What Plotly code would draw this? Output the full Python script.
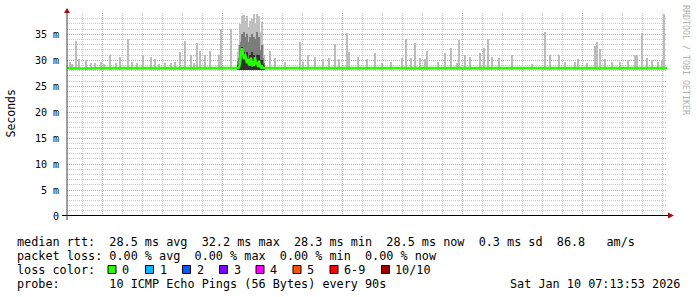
import plotly.graph_objects as go
import pandas as pd

# ---------------- data ----------------
X_START = "2026-01-09 01:13:53"
X_END = "2026-01-10 07:13:53"
MIN_RTT = 28.2  # ms, floor of the smoke

spike_times = [
    "2026-01-09 01:23", "2026-01-09 01:30", "2026-01-09 01:42", "2026-01-09 01:50", "2026-01-09 02:11",
    "2026-01-09 02:25", "2026-01-09 02:38", "2026-01-09 02:56", "2026-01-09 03:05", "2026-01-09 03:23",
    "2026-01-09 03:41", "2026-01-09 03:53", "2026-01-09 04:18", "2026-01-09 04:29", "2026-01-09 04:45",
    "2026-01-09 05:02", "2026-01-09 05:26", "2026-01-09 05:38", "2026-01-09 05:50", "2026-01-09 06:08",
    "2026-01-09 06:25", "2026-01-09 06:38", "2026-01-09 06:53", "2026-01-09 07:09", "2026-01-09 07:27",
    "2026-01-09 07:35", "2026-01-09 07:45", "2026-01-09 07:53", "2026-01-09 08:08", "2026-01-09 08:23",
    "2026-01-09 08:50", "2026-01-09 08:57", "2026-01-09 09:27", "2026-01-09 11:23", "2026-01-09 11:38",
    "2026-01-09 12:08", "2026-01-09 12:53", "2026-01-09 13:02", "2026-01-09 13:17", "2026-01-09 13:38",
    "2026-01-09 14:02", "2026-01-09 14:20", "2026-01-09 14:38", "2026-01-09 14:50", "2026-01-09 15:14",
    "2026-01-09 15:21", "2026-01-09 15:47", "2026-01-09 16:14", "2026-01-09 16:38", "2026-01-09 16:59",
    "2026-01-09 17:26", "2026-01-09 17:59", "2026-01-09 18:11", "2026-01-09 18:26", "2026-01-09 18:38",
    "2026-01-09 18:53", "2026-01-09 19:08", "2026-01-09 19:14", "2026-01-09 19:47", "2026-01-09 20:08",
    "2026-01-09 20:26", "2026-01-09 20:44", "2026-01-09 20:51", "2026-01-09 21:08", "2026-01-09 21:23",
    "2026-01-09 21:53", "2026-01-09 22:05", "2026-01-09 22:17", "2026-01-09 22:29", "2026-01-09 22:50",
    "2026-01-09 23:29", "2026-01-10 00:29", "2026-01-10 01:08", "2026-01-10 01:23", "2026-01-10 01:50",
    "2026-01-10 02:08", "2026-01-10 02:38", "2026-01-10 02:47", "2026-01-10 03:14", "2026-01-10 03:38",
    "2026-01-10 03:44", "2026-01-10 03:54", "2026-01-10 04:08", "2026-01-10 04:29", "2026-01-10 04:53",
    "2026-01-10 05:17", "2026-01-10 05:38", "2026-01-10 05:44", "2026-01-10 05:59", "2026-01-10 06:14",
    "2026-01-10 06:29", "2026-01-10 06:47", "2026-01-10 06:59", "2026-01-10 07:05",
]
spike_max = [
    29.6, 29.3, 33.7, 30.2, 30.0,
    29.4, 29.5, 29.6, 29.3, 31.0,
    29.5, 30.7, 34.0, 29.6, 29.4,
    31.0, 30.7, 30.2, 29.3, 29.5,
    29.4, 29.6, 31.6, 33.8, 31.0,
    29.5, 33.4, 31.8, 31.0, 31.8,
    31.0, 36.1, 36.1, 31.8, 30.4,
    29.6, 33.5, 29.6, 31.0, 30.7,
    30.2, 30.5, 33.1, 30.2, 35.2,
    31.6, 30.7, 30.2, 31.4, 29.5,
    29.6, 30.5, 34.0, 30.5, 33.4,
    30.5, 30.2, 31.8, 29.6, 31.4,
    32.4, 29.4, 33.9, 31.0, 30.7,
    31.4, 32.3, 34.0, 30.7, 30.5,
    31.0, 29.3, 35.4, 31.0, 31.0,
    29.6, 29.6, 30.2, 29.5, 32.7,
    33.5, 32.2, 30.2, 29.6, 29.6,
    30.0, 31.0, 31.0, 35.3, 30.5,
    30.0, 29.6, 30.0, 38.9,
]

# burst of jitter late Friday morning
cluster_times = [
    "2026-01-09 09:47", "2026-01-09 09:50", "2026-01-09 09:53", "2026-01-09 09:56", "2026-01-09 09:59",
    "2026-01-09 10:02", "2026-01-09 10:05", "2026-01-09 10:08", "2026-01-09 10:11", "2026-01-09 10:14",
    "2026-01-09 10:17", "2026-01-09 10:20", "2026-01-09 10:23", "2026-01-09 10:26", "2026-01-09 10:29",
    "2026-01-09 10:32", "2026-01-09 10:35", "2026-01-09 10:38", "2026-01-09 10:41", "2026-01-09 10:44",
    "2026-01-09 10:47", "2026-01-09 10:50", "2026-01-09 10:53", "2026-01-09 10:56", "2026-01-09 10:59",
    "2026-01-09 11:02", "2026-01-09 11:05",
]
cluster_top = [31.5, 33.0, 37.0, 35.5, 38.5, 36.0, 38.8, 35.0, 37.5, 38.5, 34.5, 36.5, 37.5, 35.0, 38.0,
               36.0, 38.9, 35.5, 37.0, 39.0, 35.0, 38.5, 34.5, 35.5, 37.3, 33.0, 31.0]
cluster_mid = [29.8, 30.5, 33.0, 33.5, 35.0, 33.0, 35.5, 32.5, 34.5, 35.0, 32.0, 33.5, 34.5, 32.5, 35.0,
               33.0, 34.5, 32.5, 34.0, 35.5, 32.0, 34.5, 32.0, 32.0, 33.0, 30.5, 29.5]
cluster_low = [29.0, 29.2, 30.5, 32.0, 32.5, 31.0, 31.5, 30.5, 31.0, 31.5, 30.0, 30.5, 31.0, 30.0, 31.5,
               30.5, 31.0, 30.0, 30.5, 31.0, 29.8, 31.0, 30.0, 29.5, 30.0, 29.2, 28.9]

median_times = [
    "2026-01-09 01:13:53", "2026-01-09 02:00", "2026-01-09 03:00", "2026-01-09 04:00", "2026-01-09 05:00",
    "2026-01-09 06:00", "2026-01-09 07:00", "2026-01-09 08:00", "2026-01-09 09:00", "2026-01-09 09:44",
] + cluster_times + [
    "2026-01-09 11:30", "2026-01-09 12:30", "2026-01-09 13:30", "2026-01-09 14:30", "2026-01-09 15:30",
    "2026-01-09 16:30", "2026-01-09 17:30", "2026-01-09 18:30", "2026-01-09 19:30", "2026-01-09 20:30",
    "2026-01-09 21:30", "2026-01-09 22:30", "2026-01-09 23:30", "2026-01-10 00:30", "2026-01-10 01:30",
    "2026-01-10 02:30", "2026-01-10 03:30", "2026-01-10 04:30", "2026-01-10 05:30", "2026-01-10 06:30",
    "2026-01-10 07:13:53",
]
median_vals = [
    28.5, 28.4, 28.5, 28.5, 28.4, 28.5, 28.5, 28.4, 28.5, 28.5,
    28.5, 28.6, 29.6, 31.6, 32.3, 31.0, 30.2, 31.2, 30.0, 29.4,
    30.3, 29.0, 29.3, 30.5, 28.8, 29.8, 28.9, 30.6, 29.2, 29.6,
    28.7, 29.9, 28.9, 28.6, 28.8, 28.5, 28.5,
    28.5, 28.4, 28.5, 28.5, 28.4, 28.5, 28.5, 28.5, 28.4, 28.5,
    28.5, 28.4, 28.5, 28.5, 28.4, 28.5, 28.5, 28.5, 28.4, 28.5,
    28.5,
]

ytick_vals = [0, 5, 10, 15, 20, 25, 30, 35]
ytick_text = ["0", "5 m", "10 m", "15 m", "20 m", "25 m", "30 m", "35 m"]
xtick_vals = ["2026-01-09 06:00", "2026-01-09 12:00", "2026-01-09 18:00", "2026-01-10 00:00", "2026-01-10 06:00"]
xtick_text = ["Fri 06:00", "Fri 12:00", "Fri 18:00", "Sat 00:00", "Sat 06:00"]

loss_labels = ["0", "1", "2", "3", "4", "5", "6-9", "10/10"]
loss_colors = ["#26ff00", "#00b8ff", "#0059ff", "#7e00ff", "#ff00ff", "#ff5500", "#ff0000", "#a00000"]

legend_line1 = "median rtt:  28.5 ms avg  32.2 ms max  28.3 ms min  28.5 ms now  0.3 ms sd  86.8   am/s"
legend_line2 = "packet loss: 0.00 % avg  0.00 % max  0.00 % min  0.00 % now"
legend_line3 = "loss color:"
legend_line4 = "probe:       10 ICMP Echo Pings (56 Bytes) every 90s"
stamp_text = "Sat Jan 10 07:13:53 2026"

# ---------------- layout geometry ----------------
W, H = 697, 297
PL, PR, PT, PB = 67, 667, 13, 216
PW, PH = PR - PL, PB - PT
MONO = "DejaVu Sans Mono"


def fx(px):
    return (px - PL) / PW


def fy(py):
    return (PB - py) / PH


BAR_W = 180000  # ms, one pixel column

fig = go.Figure()
fig.add_trace(go.Bar(x=spike_times, y=[v - MIN_RTT for v in spike_max], base=MIN_RTT,
                     width=BAR_W, marker=dict(color="#bcbcbc", line=dict(width=0)),
                     hoverinfo="skip", showlegend=False))
for vals, col in [(cluster_top, "#c0c0c0"), (cluster_mid, "#7c7c7c"), (cluster_low, "#303030")]:
    fig.add_trace(go.Bar(x=cluster_times, y=[v - MIN_RTT for v in vals], base=MIN_RTT,
                         width=BAR_W, marker=dict(color=col, line=dict(width=0)),
                         hoverinfo="skip", showlegend=False))
fig.add_trace(go.Scatter(x=median_times, y=median_vals, mode="lines",
                         line=dict(color="#26ff00", width=2.5), hoverinfo="skip", showlegend=False))

MAJ = "#f09090"
MIN = "#c8c8c8"
DASH = "1px,1px"

# grid positions (minor lines only where there is no major line)
y_minor = [v for v in range(0, 40) if v % 5 != 0]
x_hours = pd.date_range("2026-01-09 02:00", "2026-01-10 07:00", freq="h")
x_minor = [t.strftime("%Y-%m-%d %H:%M") for t in x_hours if t.hour % 6 != 3]
x_major = [t.strftime("%Y-%m-%d %H:%M") for t in x_hours if t.hour % 6 == 3]

fig.update_layout(
    width=W, height=H,
    margin=dict(l=PL, r=W - PR, t=PT, b=H - PB, pad=0),
    paper_bgcolor="white", plot_bgcolor="white",
    barmode="overlay", bargap=0,
    showlegend=False,
    font=dict(family=MONO, size=10, color="#000"),
    xaxis=dict(
        type="date", range=[X_START, X_END],
        tickmode="array", tickvals=x_major,
        showticklabels=False, ticks="",
        showgrid=True, gridcolor=MAJ, griddash=DASH, gridwidth=1,
        minor=dict(tickmode="array", tickvals=x_minor,
                   showgrid=True, gridcolor=MIN, griddash=DASH, gridwidth=1, ticks=""),
        zeroline=False, showline=False,
    ),
    xaxis2=dict(
        type="date", range=[X_START, X_END], overlaying="x", anchor="y", side="bottom",
        tickmode="array", tickvals=xtick_vals, ticktext=xtick_text,
        showgrid=False, ticks="", ticklabelstandoff=3,
        tickfont=dict(family=MONO, size=10, color="#000"),
        zeroline=False, showline=False,
    ),
    yaxis=dict(
        range=[0, 39.1],
        tickmode="array", tickvals=ytick_vals, ticktext=ytick_text,
        showgrid=True, gridcolor=MAJ, griddash=DASH, gridwidth=1,
        minor=dict(tickmode="array", tickvals=y_minor, showgrid=True,
                   gridcolor=MIN, griddash=DASH, gridwidth=1, ticks=""),
        ticks="", ticklabelstandoff=7,
        tickfont=dict(family=MONO, size=10, color="#000"),
        zeroline=False, showline=False,
    ),
)

shapes = []
# axis lines
shapes.append(dict(type="line", xref="paper", yref="paper", x0=fx(62), x1=fx(669), y0=fy(215.5), y1=fy(215.5),
                   line=dict(color="#000", width=1)))
shapes.append(dict(type="line", xref="paper", yref="paper", x0=fx(67), x1=fx(67), y0=fy(220), y1=fy(12),
                   line=dict(color="#404040", width=1)))
# arrows
shapes.append(dict(type="path", xref="paper", yref="paper",
                   path=f"M {fx(64)} {fy(13)} L {fx(70)} {fy(13)} L {fx(67)} {fy(8)} Z",
                   fillcolor="#a01010", line=dict(width=0)))
shapes.append(dict(type="path", xref="paper", yref="paper",
                   path=f"M {fx(668)} {fy(212.5)} L {fx(668)} {fy(218.5)} L {fx(674)} {fy(215.5)} Z",
                   fillcolor="#a01010", line=dict(width=0)))

annotations = []
LEG = 11.8


def txt(s, px, py, anchor="left", size=LEG, color="#000", angle=0):
    annotations.append(dict(text=s.replace(" ", "\u00a0"), x=fx(px), y=fy(py), xref="paper", yref="paper",
                            xanchor=anchor, yanchor="middle", showarrow=False, textangle=angle,
                            font=dict(family=MONO, size=size, color=color), borderpad=0))


txt("Seconds", 10, 113.5, anchor="center", size=11.5, angle=-90)
txt("RRDTOOL / TOBI OETIKER", 686, 60, anchor="center", size=8.3, color="#b0b0b0", angle=90)

txt(legend_line1, 16, 241.5)
txt(legend_line2, 16, 255.8)
txt(legend_line3, 16, 270)
sq_x = [108, 145.5, 182.5, 219.5, 256, 293, 330, 381.5]
for lab, col, px in zip(loss_labels, loss_colors, sq_x):
    shapes.append(dict(type="rect", xref="paper", yref="paper", x0=fx(px), x1=fx(px + 8),
                       y0=fy(273.5), y1=fy(265.5), fillcolor=col, line=dict(color="#000", width=1)))
    txt(lab, px + 13, 270)
txt(legend_line4, 16, 284.3)
txt(stamp_text, 681, 284.3, anchor="right")

fig.update_layout(shapes=shapes, annotations=annotations)
fig.write_html("out.html")
